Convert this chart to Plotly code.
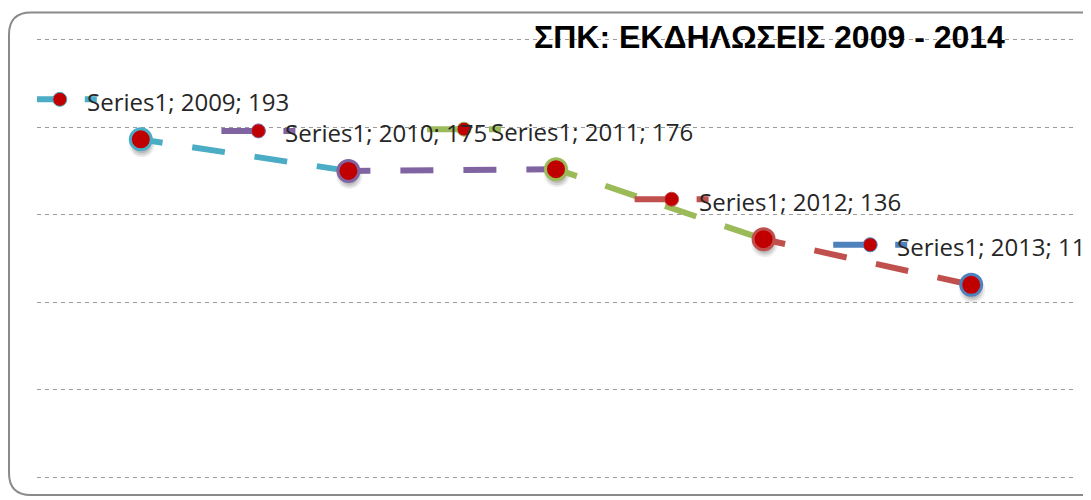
import plotly.graph_objects as go

# ---- data ----
years = [2009, 2010, 2011, 2012, 2013]
values = [193, 175, 176, 136, 110]
series_name = "Series1"
point_colors = ["#4BACC6", "#8064A2", "#9BBB59", "#C0504D", "#4F81BD"]
title_text = "ΣΠΚ: ΕΚΔΗΛΩΣΕΙΣ 2009 - 2014"
y_ticks = [0, 50, 100, 150, 200, 250]

labels = [f"{series_name}; {y}; {v}" for y, v in zip(years, values)]

# ---- layout constants (pixels; page body has an 8px margin) ----
OFF = 8
W, H = 1110, 500 - OFF
PW = 1038
ML, MT, MB = 37 - OFF, 28, 19
MR = W - ML - PW
PH = H - MT - MB
Y_PAD = 2  # keep edge gridlines inside the plot

key_dx = [-81, -90, -92, -92, -101]   # legend-key offset from point (px)
key_dy = 40

def ref2paper(px, py):
    """reference-image pixel -> paper fraction"""
    fx, fy = px - OFF, py - OFF
    return (fx - ML) / PW, (H - MB - fy) / PH

fig = go.Figure()

SEG_DASH = "22px,30px,33px,30px,33px,30px,33px,30px,33px,30px"
for i in range(len(years) - 1):
    fig.add_trace(go.Scatter(
        x=years[i:i + 2], y=values[i:i + 2], mode="lines",
        line=dict(color=point_colors[i], width=6, dash=SEG_DASH),
        hoverinfo="skip", showlegend=False))

fig.add_trace(go.Scatter(
    x=years, y=values, mode="markers",
    marker=dict(size=21, color="#C00000", line=dict(color=point_colors, width=3)),
    showlegend=False))

shapes = []
# soft marker shadows
for yr, v in zip(years, values):
    for rad, op in ((13, 0.07), (11, 0.10), (9, 0.12)):
        shapes.append(dict(type="circle", xref="x", yref="y", xsizemode="pixel", ysizemode="pixel",
                           xanchor=yr, yanchor=v, x0=1 - rad, x1=1 + rad, y0=-5 - rad, y1=-5 + rad,
                           fillcolor=f"rgba(0,0,0,{op})", line=dict(width=0), layer="below"))

annotations = []
for i, (yr, v) in enumerate(zip(years, values)):
    dx = key_dx[i]
    shapes.append(dict(type="line", xref="x", yref="y", xsizemode="pixel", ysizemode="pixel",
                       xanchor=yr, yanchor=v, x0=dx - 37, x1=dx + 37, y0=key_dy, y1=key_dy,
                       line=dict(color=point_colors[i], width=6, dash="40px,22px,20px")))
    shapes.append(dict(type="circle", xref="x", yref="y", xsizemode="pixel", ysizemode="pixel",
                       xanchor=yr, yanchor=v, x0=dx - 7, x1=dx + 7, y0=key_dy - 7, y1=key_dy + 7,
                       fillcolor="#C00000", line=dict(color=point_colors[i], width=1)))
    annotations.append(dict(x=yr, y=v, xref="x", yref="y", text=labels[i], showarrow=False,
                            xanchor="left", yanchor="middle", xshift=dx + 25, yshift=key_dy - 2,
                            font=dict(family="Open Sans", size=24, color="#262626")))

# title
tx, ty = ref2paper(769, 37)
annotations.append(dict(x=tx, y=ty, xref="paper", yref="paper", text=f"<b>{title_text}</b>",
                        showarrow=False, xanchor="center", yanchor="middle",
                        font=dict(family="Liberation Sans", size=32, color="#000000")))

# rounded chart border (extends past right edge)
r = 22
L, T, R, B = 9, 12.5, 1150, 495
def P(px, py):
    a, b = ref2paper(px, py)
    return f"{a:.5f},{b:.5f}"
path = (f"M {P(L, T + r)} Q {P(L, T)} {P(L + r, T)} L {P(R - r, T)} Q {P(R, T)} {P(R, T + r)} "
        f"L {P(R, B - r)} Q {P(R, B)} {P(R - r, B)} L {P(L + r, B)} Q {P(L, B)} {P(L, B - r)} Z")
shapes.append(dict(type="path", xref="paper", yref="paper", path=path,
                   line=dict(color="#8A8A8A", width=2), fillcolor="rgba(0,0,0,0)", layer="above"))

fig.update_layout(
    width=W, height=H, margin=dict(l=ML, r=MR, t=MT, b=MB),
    paper_bgcolor="white", plot_bgcolor="white",
    shapes=shapes, annotations=annotations, showlegend=False,
    xaxis=dict(range=[years[0] - 0.5, years[-1] + 0.5], showgrid=False, showticklabels=False,
               zeroline=False, showline=False, ticks=""),
    yaxis=dict(range=[y_ticks[0] - Y_PAD, y_ticks[-1] + Y_PAD], tickvals=y_ticks, showticklabels=False,
               showgrid=True, gridcolor="#9A9A9A", gridwidth=1, griddash="4px,4px",
               zeroline=False, showline=False, ticks=""),
)

fig.write_html("out.html")
